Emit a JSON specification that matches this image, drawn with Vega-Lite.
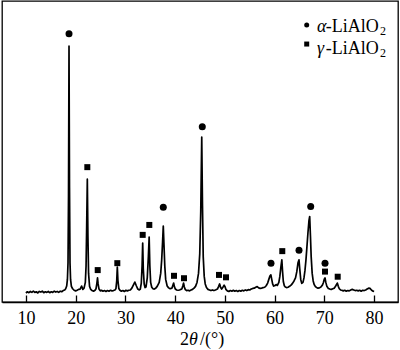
{
  "$schema": "https://vega.github.io/schema/vega-lite/v6.json",
  "width": 396,
  "height": 301,
  "autosize": {"type": "none"},
  "padding": {"left": 2, "top": 1, "right": 2, "bottom": 48},
  "background": "white",
  "config": {"view": {"stroke": "#000", "strokeWidth": 1.3}, "font": "Liberation Serif"},
  "datasets": {
    "pattern": [
      {"two_theta": 10.0, "intensity": 3.0}, {"two_theta": 10.3, "intensity": 3.4}, {"two_theta": 10.6, "intensity": 3.1},
      {"two_theta": 10.9, "intensity": 3.5}, {"two_theta": 11.2, "intensity": 3.2}, {"two_theta": 11.5, "intensity": 3.6},
      {"two_theta": 11.8, "intensity": 3.2}, {"two_theta": 12.1, "intensity": 3.4}, {"two_theta": 12.4, "intensity": 3.0},
      {"two_theta": 12.7, "intensity": 3.5}, {"two_theta": 13.0, "intensity": 3.3}, {"two_theta": 13.3, "intensity": 3.6},
      {"two_theta": 13.6, "intensity": 3.1}, {"two_theta": 13.9, "intensity": 3.4}, {"two_theta": 14.2, "intensity": 3.2},
      {"two_theta": 14.5, "intensity": 3.5}, {"two_theta": 14.8, "intensity": 3.1}, {"two_theta": 15.1, "intensity": 3.4},
      {"two_theta": 15.4, "intensity": 3.2}, {"two_theta": 15.7, "intensity": 3.6}, {"two_theta": 16.0, "intensity": 3.3},
      {"two_theta": 16.3, "intensity": 3.5}, {"two_theta": 16.6, "intensity": 3.2}, {"two_theta": 16.9, "intensity": 3.6},
      {"two_theta": 17.2, "intensity": 3.4}, {"two_theta": 17.5, "intensity": 3.8}, {"two_theta": 17.8, "intensity": 4.0},
      {"two_theta": 18.0, "intensity": 4.4}, {"two_theta": 18.2, "intensity": 5.3}, {"two_theta": 18.35, "intensity": 7.5},
      {"two_theta": 18.47, "intensity": 13}, {"two_theta": 18.57, "intensity": 35}, {"two_theta": 18.67, "intensity": 85},
      {"two_theta": 18.77, "intensity": 38}, {"two_theta": 18.87, "intensity": 13}, {"two_theta": 18.98, "intensity": 7.5},
      {"two_theta": 19.15, "intensity": 5.2}, {"two_theta": 19.4, "intensity": 4.4}, {"two_theta": 19.7, "intensity": 3.9},
      {"two_theta": 20.0, "intensity": 3.7}, {"two_theta": 20.3, "intensity": 3.9}, {"two_theta": 20.6, "intensity": 4.2},
      {"two_theta": 20.9, "intensity": 4.3}, {"two_theta": 21.2, "intensity": 5.3}, {"two_theta": 21.45, "intensity": 4.2},
      {"two_theta": 21.7, "intensity": 4.6}, {"two_theta": 21.95, "intensity": 6.5}, {"two_theta": 22.1, "intensity": 12},
      {"two_theta": 22.22, "intensity": 25}, {"two_theta": 22.35, "intensity": 40.8}, {"two_theta": 22.47, "intensity": 22},
      {"two_theta": 22.6, "intensity": 9.5}, {"two_theta": 22.8, "intensity": 5.2}, {"two_theta": 23.0, "intensity": 4.3},
      {"two_theta": 23.3, "intensity": 3.8}, {"two_theta": 23.6, "intensity": 3.6}, {"two_theta": 23.9, "intensity": 3.9},
      {"two_theta": 24.1, "intensity": 4.4}, {"two_theta": 24.28, "intensity": 6.3}, {"two_theta": 24.4, "intensity": 8.0},
      {"two_theta": 24.52, "intensity": 6.0}, {"two_theta": 24.7, "intensity": 4.3}, {"two_theta": 24.95, "intensity": 3.7},
      {"two_theta": 25.2, "intensity": 3.9}, {"two_theta": 25.5, "intensity": 3.6}, {"two_theta": 25.8, "intensity": 3.8},
      {"two_theta": 26.1, "intensity": 3.5}, {"two_theta": 26.4, "intensity": 3.8}, {"two_theta": 26.7, "intensity": 3.6},
      {"two_theta": 27.0, "intensity": 3.9}, {"two_theta": 27.3, "intensity": 3.7}, {"two_theta": 27.6, "intensity": 3.8},
      {"two_theta": 27.9, "intensity": 4.0}, {"two_theta": 28.1, "intensity": 4.4}, {"two_theta": 28.26, "intensity": 7.0},
      {"two_theta": 28.38, "intensity": 11.6}, {"two_theta": 28.5, "intensity": 7.2}, {"two_theta": 28.68, "intensity": 4.5},
      {"two_theta": 28.9, "intensity": 3.9}, {"two_theta": 29.2, "intensity": 3.6}, {"two_theta": 29.5, "intensity": 3.8},
      {"two_theta": 29.8, "intensity": 3.5}, {"two_theta": 30.1, "intensity": 3.9}, {"two_theta": 30.4, "intensity": 3.7},
      {"two_theta": 30.7, "intensity": 3.9}, {"two_theta": 31.0, "intensity": 4.0}, {"two_theta": 31.3, "intensity": 4.6},
      {"two_theta": 31.6, "intensity": 5.6}, {"two_theta": 31.9, "intensity": 6.6}, {"two_theta": 32.2, "intensity": 5.4},
      {"two_theta": 32.5, "intensity": 4.3}, {"two_theta": 32.8, "intensity": 4.0}, {"two_theta": 33.0, "intensity": 4.3},
      {"two_theta": 33.2, "intensity": 6.3}, {"two_theta": 33.36, "intensity": 12}, {"two_theta": 33.48, "intensity": 19.6},
      {"two_theta": 33.6, "intensity": 11}, {"two_theta": 33.78, "intensity": 6.0}, {"two_theta": 33.95, "intensity": 4.8},
      {"two_theta": 34.15, "intensity": 5.0}, {"two_theta": 34.4, "intensity": 8}, {"two_theta": 34.62, "intensity": 15},
      {"two_theta": 34.78, "intensity": 21.6}, {"two_theta": 34.92, "intensity": 12}, {"two_theta": 35.08, "intensity": 6.5},
      {"two_theta": 35.3, "intensity": 4.9}, {"two_theta": 35.55, "intensity": 4.4}, {"two_theta": 35.8, "intensity": 4.3},
      {"two_theta": 36.1, "intensity": 4.6}, {"two_theta": 36.4, "intensity": 5.2}, {"two_theta": 36.8, "intensity": 6.5},
      {"two_theta": 37.1, "intensity": 9.5}, {"two_theta": 37.3, "intensity": 14}, {"two_theta": 37.48, "intensity": 20},
      {"two_theta": 37.62, "intensity": 25.2}, {"two_theta": 37.76, "intensity": 19}, {"two_theta": 37.92, "intensity": 12},
      {"two_theta": 38.1, "intensity": 7.5}, {"two_theta": 38.4, "intensity": 5.3}, {"two_theta": 38.7, "intensity": 4.7},
      {"two_theta": 39.0, "intensity": 4.4}, {"two_theta": 39.35, "intensity": 4.6}, {"two_theta": 39.55, "intensity": 5.6},
      {"two_theta": 39.7, "intensity": 6.3}, {"two_theta": 39.85, "intensity": 5.1}, {"two_theta": 40.05, "intensity": 4.3},
      {"two_theta": 40.3, "intensity": 4.0}, {"two_theta": 40.6, "intensity": 3.9}, {"two_theta": 40.9, "intensity": 4.0},
      {"two_theta": 41.15, "intensity": 4.2}, {"two_theta": 41.35, "intensity": 4.3}, {"two_theta": 41.55, "intensity": 5.4},
      {"two_theta": 41.7, "intensity": 6.3}, {"two_theta": 41.85, "intensity": 5.0}, {"two_theta": 42.05, "intensity": 4.1},
      {"two_theta": 42.3, "intensity": 3.8}, {"two_theta": 42.6, "intensity": 3.9}, {"two_theta": 42.9, "intensity": 3.7},
      {"two_theta": 43.2, "intensity": 4.0}, {"two_theta": 43.5, "intensity": 4.2}, {"two_theta": 43.8, "intensity": 4.6},
      {"two_theta": 44.1, "intensity": 5.2}, {"two_theta": 44.4, "intensity": 6.5}, {"two_theta": 44.7, "intensity": 9.5},
      {"two_theta": 44.95, "intensity": 16}, {"two_theta": 45.15, "intensity": 30}, {"two_theta": 45.35, "intensity": 54.8},
      {"two_theta": 45.5, "intensity": 32}, {"two_theta": 45.65, "intensity": 15}, {"two_theta": 45.85, "intensity": 8.5},
      {"two_theta": 46.05, "intensity": 6.0}, {"two_theta": 46.3, "intensity": 4.8}, {"two_theta": 46.6, "intensity": 4.2},
      {"two_theta": 46.9, "intensity": 4.0}, {"two_theta": 47.2, "intensity": 3.8}, {"two_theta": 47.5, "intensity": 4.0},
      {"two_theta": 47.8, "intensity": 3.8}, {"two_theta": 48.1, "intensity": 4.0}, {"two_theta": 48.5, "intensity": 4.3},
      {"two_theta": 48.75, "intensity": 5.2}, {"two_theta": 48.95, "intensity": 6.0}, {"two_theta": 49.15, "intensity": 4.8},
      {"two_theta": 49.35, "intensity": 4.3}, {"two_theta": 49.6, "intensity": 4.9}, {"two_theta": 49.85, "intensity": 5.6},
      {"two_theta": 50.0, "intensity": 5.2}, {"two_theta": 50.2, "intensity": 4.2}, {"two_theta": 50.5, "intensity": 3.7},
      {"two_theta": 50.8, "intensity": 3.5}, {"two_theta": 51.1, "intensity": 3.8}, {"two_theta": 51.4, "intensity": 3.6},
      {"two_theta": 51.7, "intensity": 3.9}, {"two_theta": 52.0, "intensity": 3.6}, {"two_theta": 52.3, "intensity": 3.8},
      {"two_theta": 52.6, "intensity": 3.5}, {"two_theta": 52.9, "intensity": 3.8}, {"two_theta": 53.2, "intensity": 3.6},
      {"two_theta": 53.5, "intensity": 3.9}, {"two_theta": 53.8, "intensity": 3.7}, {"two_theta": 54.1, "intensity": 4.0},
      {"two_theta": 54.4, "intensity": 3.8}, {"two_theta": 54.7, "intensity": 4.1}, {"two_theta": 55.0, "intensity": 4.0},
      {"two_theta": 55.3, "intensity": 4.3}, {"two_theta": 55.6, "intensity": 4.5}, {"two_theta": 55.9, "intensity": 4.6},
      {"two_theta": 56.2, "intensity": 4.9}, {"two_theta": 56.5, "intensity": 5.1}, {"two_theta": 56.8, "intensity": 4.7},
      {"two_theta": 57.1, "intensity": 4.5}, {"two_theta": 57.4, "intensity": 4.6}, {"two_theta": 57.7, "intensity": 4.8},
      {"two_theta": 58.0, "intensity": 4.9}, {"two_theta": 58.3, "intensity": 5.4}, {"two_theta": 58.6, "intensity": 6.3},
      {"two_theta": 58.85, "intensity": 7.6}, {"two_theta": 59.05, "intensity": 8.6}, {"two_theta": 59.25, "intensity": 9.0},
      {"two_theta": 59.42, "intensity": 7.5}, {"two_theta": 59.6, "intensity": 6.0}, {"two_theta": 59.8, "intensity": 5.3},
      {"two_theta": 60.0, "intensity": 5.4}, {"two_theta": 60.3, "intensity": 5.8}, {"two_theta": 60.55, "intensity": 5.5},
      {"two_theta": 60.85, "intensity": 6.5}, {"two_theta": 61.05, "intensity": 8.5}, {"two_theta": 61.25, "intensity": 11.5},
      {"two_theta": 61.45, "intensity": 14.0}, {"two_theta": 61.6, "intensity": 10}, {"two_theta": 61.75, "intensity": 6.8},
      {"two_theta": 61.95, "intensity": 5.4}, {"two_theta": 62.15, "intensity": 5.0}, {"two_theta": 62.4, "intensity": 4.8},
      {"two_theta": 62.7, "intensity": 4.9}, {"two_theta": 63.0, "intensity": 5.2}, {"two_theta": 63.3, "intensity": 5.6},
      {"two_theta": 63.6, "intensity": 6.2}, {"two_theta": 63.9, "intensity": 7.0}, {"two_theta": 64.2, "intensity": 8.0},
      {"two_theta": 64.45, "intensity": 10}, {"two_theta": 64.7, "intensity": 13}, {"two_theta": 64.9, "intensity": 14.0},
      {"two_theta": 65.05, "intensity": 11}, {"two_theta": 65.25, "intensity": 7.5}, {"two_theta": 65.45, "intensity": 6.2},
      {"two_theta": 65.7, "intensity": 6.5}, {"two_theta": 65.9, "intensity": 8.0}, {"two_theta": 66.1, "intensity": 10.5},
      {"two_theta": 66.3, "intensity": 14}, {"two_theta": 66.5, "intensity": 18.5}, {"two_theta": 66.7, "intensity": 23},
      {"two_theta": 66.9, "intensity": 27}, {"two_theta": 67.05, "intensity": 28.4}, {"two_theta": 67.2, "intensity": 22},
      {"two_theta": 67.35, "intensity": 15}, {"two_theta": 67.55, "intensity": 9.5}, {"two_theta": 67.75, "intensity": 7.0},
      {"two_theta": 67.95, "intensity": 5.8}, {"two_theta": 68.2, "intensity": 5.1}, {"two_theta": 68.45, "intensity": 4.8},
      {"two_theta": 68.7, "intensity": 4.6}, {"two_theta": 69.0, "intensity": 4.7}, {"two_theta": 69.3, "intensity": 5.0},
      {"two_theta": 69.6, "intensity": 5.6}, {"two_theta": 69.8, "intensity": 6.4}, {"two_theta": 69.98, "intensity": 7.6},
      {"two_theta": 70.13, "intensity": 8.0}, {"two_theta": 70.28, "intensity": 6.6}, {"two_theta": 70.5, "intensity": 5.2},
      {"two_theta": 70.8, "intensity": 4.5}, {"two_theta": 71.1, "intensity": 4.3}, {"two_theta": 71.4, "intensity": 4.2},
      {"two_theta": 71.7, "intensity": 4.4}, {"two_theta": 72.0, "intensity": 4.6}, {"two_theta": 72.3, "intensity": 5.4},
      {"two_theta": 72.6, "intensity": 6.3}, {"two_theta": 72.8, "intensity": 5.2}, {"two_theta": 73.0, "intensity": 4.4},
      {"two_theta": 73.25, "intensity": 4.0}, {"two_theta": 73.5, "intensity": 3.9}, {"two_theta": 73.8, "intensity": 3.7},
      {"two_theta": 74.1, "intensity": 3.9}, {"two_theta": 74.4, "intensity": 3.6}, {"two_theta": 74.7, "intensity": 3.8},
      {"two_theta": 75.0, "intensity": 3.7}, {"two_theta": 75.3, "intensity": 4.0}, {"two_theta": 75.6, "intensity": 4.2},
      {"two_theta": 75.9, "intensity": 4.0}, {"two_theta": 76.2, "intensity": 3.8}, {"two_theta": 76.5, "intensity": 3.9},
      {"two_theta": 76.8, "intensity": 3.7}, {"two_theta": 77.1, "intensity": 3.9}, {"two_theta": 77.4, "intensity": 3.6},
      {"two_theta": 77.7, "intensity": 3.9}, {"two_theta": 78.0, "intensity": 3.8}, {"two_theta": 78.3, "intensity": 4.0},
      {"two_theta": 78.6, "intensity": 4.3}, {"two_theta": 78.9, "intensity": 4.6}, {"two_theta": 79.2, "intensity": 4.5},
      {"two_theta": 79.5, "intensity": 3.9}, {"two_theta": 79.8, "intensity": 3.6}, {"two_theta": 80.0, "intensity": 3.5}
    ],
    "peaks": [
      {"two_theta": 18.67, "intensity": 89.1, "phase": "alpha"},
      {"two_theta": 37.62, "intensity": 31.5, "phase": "alpha"},
      {"two_theta": 45.46, "intensity": 58.2, "phase": "alpha"},
      {"two_theta": 59.27, "intensity": 12.9, "phase": "alpha"},
      {"two_theta": 64.9, "intensity": 17.2, "phase": "alpha"},
      {"two_theta": 67.25, "intensity": 31.7, "phase": "alpha"},
      {"two_theta": 70.13, "intensity": 12.9, "phase": "alpha"},
      {"two_theta": 22.35, "intensity": 44.8, "phase": "gamma"},
      {"two_theta": 24.44, "intensity": 10.6, "phase": "gamma"},
      {"two_theta": 28.38, "intensity": 12.9, "phase": "gamma"},
      {"two_theta": 33.48, "intensity": 22.3, "phase": "gamma"},
      {"two_theta": 34.81, "intensity": 25.6, "phase": "gamma"},
      {"two_theta": 39.77, "intensity": 8.7, "phase": "gamma"},
      {"two_theta": 41.78, "intensity": 7.9, "phase": "gamma"},
      {"two_theta": 48.82, "intensity": 9.0, "phase": "gamma"},
      {"two_theta": 50.23, "intensity": 8.2, "phase": "gamma"},
      {"two_theta": 61.54, "intensity": 16.9, "phase": "gamma"},
      {"two_theta": 70.13, "intensity": 10.1, "phase": "gamma"},
      {"two_theta": 72.68, "intensity": 8.4, "phase": "gamma"}
    ],
    "key": [
      {"two_theta": 66.45, "intensity": 92.0, "phase": "alpha"},
      {"two_theta": 66.45, "intensity": 85.7, "phase": "gamma"}
    ],
    "notes": [
      {"two_theta": 68.52, "intensity": 89.6, "label": "α", "kind": "italic"},
      {"two_theta": 70.27, "intensity": 89.6, "label": "-LiAlO", "kind": "regular"},
      {"two_theta": 81.2, "intensity": 88.7, "label": "2", "kind": "sub"},
      {"two_theta": 68.52, "intensity": 82.4, "label": "γ", "kind": "italic"},
      {"two_theta": 70.27, "intensity": 82.4, "label": "-LiAlO", "kind": "regular"},
      {"two_theta": 81.2, "intensity": 81.5, "label": "2", "kind": "sub"},
      {"two_theta": 40.98, "intensity": -14.3, "label": "2", "kind": "regular"},
      {"two_theta": 42.79, "intensity": -14.3, "label": "θ", "kind": "italic"},
      {"two_theta": 45.0, "intensity": -14.3, "label": "/(°)", "kind": "regular"}
    ]
  },
  "layer": [
    {
      "data": {"name": "pattern"},
      "mark": {"type": "line", "color": "#000", "strokeWidth": 1.7, "strokeJoin": "round"},
      "encoding": {
        "x": {
          "field": "two_theta", "type": "quantitative",
          "scale": {"domain": [5.2, 84.8], "nice": false, "zero": false},
          "axis": {
            "values": [10, 20, 30, 40, 50, 60, 70, 80],
            "title": null, "grid": false,
            "tickSize": -7, "tickColor": "#000", "tickWidth": 1.3,
            "domainColor": "#000", "domainWidth": 1.3,
            "labelFont": "Liberation Serif", "labelFontSize": 18, "labelColor": "#000",
            "labelPadding": 14, "labelFlush": false
          }
        },
        "y": {
          "field": "intensity", "type": "quantitative",
          "scale": {"domain": [0, 100], "nice": false, "zero": false},
          "axis": null
        }
      }
    },
    {
      "data": {"name": "peaks"},
      "mark": {"type": "point", "filled": true, "color": "#000", "opacity": 1},
      "encoding": {
        "x": {"field": "two_theta", "type": "quantitative"},
        "y": {"field": "intensity", "type": "quantitative"},
        "shape": {"field": "phase", "type": "nominal", "scale": {"domain": ["alpha", "gamma"], "range": ["circle", "square"]}, "legend": null},
        "size": {"field": "phase", "type": "nominal", "scale": {"domain": ["alpha", "gamma"], "range": [49, 36]}, "legend": null}
      }
    },
    {
      "data": {"name": "key"},
      "mark": {"type": "point", "filled": true, "color": "#000", "opacity": 1, "size": 25},
      "encoding": {
        "x": {"field": "two_theta", "type": "quantitative"},
        "y": {"field": "intensity", "type": "quantitative"},
        "shape": {"field": "phase", "type": "nominal", "legend": null}
      }
    },
    {
      "data": {"name": "notes"},
      "transform": [{"filter": "datum.kind === 'regular'"}],
      "mark": {"type": "text", "align": "left", "baseline": "alphabetic", "font": "Liberation Serif", "fontSize": 18, "color": "#000"},
      "encoding": {
        "x": {"field": "two_theta", "type": "quantitative"},
        "y": {"field": "intensity", "type": "quantitative"},
        "text": {"field": "label"}
      }
    },
    {
      "data": {"name": "notes"},
      "transform": [{"filter": "datum.kind === 'italic'"}],
      "mark": {"type": "text", "align": "left", "baseline": "alphabetic", "font": "Liberation Serif", "fontStyle": "italic", "fontSize": 18, "color": "#000"},
      "encoding": {
        "x": {"field": "two_theta", "type": "quantitative"},
        "y": {"field": "intensity", "type": "quantitative"},
        "text": {"field": "label"}
      }
    },
    {
      "data": {"name": "notes"},
      "transform": [{"filter": "datum.kind === 'sub'"}],
      "mark": {"type": "text", "align": "left", "baseline": "alphabetic", "font": "Liberation Serif", "fontSize": 12, "color": "#000"},
      "encoding": {
        "x": {"field": "two_theta", "type": "quantitative"},
        "y": {"field": "intensity", "type": "quantitative"},
        "text": {"field": "label"}
      }
    }
  ]
}
